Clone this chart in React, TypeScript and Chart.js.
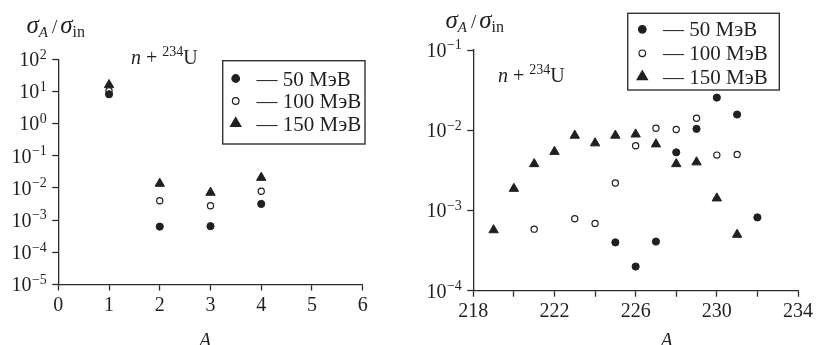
import React, { useEffect, useRef } from 'react';
import { Chart, registerables } from 'chart.js';

Chart.register(...registerables);

// ---------- data ----------
const seriesLabels = ['— 50 МэВ', '— 100 МэВ', '— 150 МэВ'];

// left panel: light fragments
const leftA = [1, 2, 3, 4];
const left50 = [8.2, 6.3e-4, 6.5e-4, 3.2e-3];
const left100 = [10.6, 4.0e-3, 2.8e-3, 7.9e-3];
const left150 = [16, 0.0137, 7.2e-3, 0.021];

// right panel: heavy residues
const right50A = [225, 226, 227, 228, 229, 230, 231, 232];
const right50 = [4.0e-4, 2.0e-4, 4.1e-4, 5.3e-3, 0.0104, 0.0255, 0.0157, 8.2e-4];
const right100A = [221, 223, 224, 225, 226, 227, 228, 229, 230, 231];
const right100 = [5.85e-4, 7.9e-4, 6.9e-4, 2.2e-3, 6.4e-3, 0.0106, 0.0102, 0.0141, 4.9e-3, 5.0e-3];
const right150A = [219, 220, 221, 222, 223, 224, 225, 226, 227, 228, 229, 230, 231];
const right150 = [5.7e-4, 1.87e-3, 3.8e-3, 5.4e-3, 8.6e-3, 6.9e-3, 8.6e-3, 8.9e-3, 6.7e-3, 3.8e-3, 4.0e-3, 1.42e-3, 5.0e-4];

const yTickBase = '10';
const leftYTickValues = [1e-5, 1e-4, 1e-3, 1e-2, 1e-1, 1e0, 1e1, 1e2];
const leftYTickExps = ['−5', '−4', '−3', '−2', '−1', '0', '1', '2'];
const rightYTickValues = [1e-4, 1e-3, 1e-2, 1e-1];
const rightYTickExps = ['−4', '−3', '−2', '−1'];
const leftXTickLabels = ['0', '1', '2', '3', '4', '5', '6'];
const rightXTickLabels = ['218', '222', '226', '230', '234'];

const yTitle = { sigma: 'σ', sub: 'A', slash: '/', sigma2: 'σ', sub2: 'in' };
const reaction = { n: 'n', plus: ' + ', mass: '234', el: 'U' };
const xTitle = 'A';

// ---------- styling ----------
const INK = '#231f20';
const AXIS = '#2a2a2a';
const FONT = '"Liberation Serif", "Times New Roman", serif';

type Run = { t: string; size: number; italic?: boolean; dy?: number; gap?: number };

function runsWidth(ctx: CanvasRenderingContext2D, runs: Run[]) {
  let w = 0;
  for (const r of runs) {
    ctx.font = `${r.italic ? 'italic ' : ''}${r.size}px ${FONT}`;
    w += (r.gap || 0) + ctx.measureText(r.t).width;
  }
  return w;
}

function drawRuns(ctx: CanvasRenderingContext2D, x: number, y: number, runs: Run[]) {
  let cx = x;
  ctx.save();
  ctx.fillStyle = INK;
  ctx.textBaseline = 'alphabetic';
  ctx.textAlign = 'left';
  for (const r of runs) {
    cx += r.gap || 0;
    ctx.font = `${r.italic ? 'italic ' : ''}${r.size}px ${FONT}`;
    ctx.fillText(r.t, cx, y + (r.dy || 0));
    cx += ctx.measureText(r.t).width;
  }
  ctx.restore();
}

function drawMarker(ctx: CanvasRenderingContext2D, style: string, filled: boolean, x: number, y: number, r: number) {
  ctx.save();
  ctx.beginPath();
  if (style === 'triangle') {
    let rad = 0;
    const TT = (Math.PI * 2) / 3;
    ctx.moveTo(x + Math.sin(rad) * r, y - Math.cos(rad) * r);
    rad += TT;
    ctx.lineTo(x + Math.sin(rad) * r, y - Math.cos(rad) * r);
    rad += TT;
    ctx.lineTo(x + Math.sin(rad) * r, y - Math.cos(rad) * r);
    ctx.closePath();
  } else {
    ctx.arc(x, y, r, 0, Math.PI * 2);
  }
  ctx.fillStyle = filled ? INK : '#ffffff';
  ctx.fill();
  ctx.lineWidth = 1.2;
  ctx.strokeStyle = INK;
  ctx.stroke();
  ctx.restore();
}

const decorPlugin = {
  id: 'decor',
  afterDraw(chart: any, _args: any, opts: any) {
    const ctx: CanvasRenderingContext2D = chart.ctx;
    const { box, rows, markerX, textX, title, react, axisLabel, exps } = opts;
    // y tick labels: 10 with superscript exponent
    const ys = chart.scales.y;
    const right = chart.chartArea.left - 11.5;
    ys.ticks.forEach((t: any, i: number) => {
      const py = ys.getPixelForValue(t.value);
      const runs: Run[] = [
        { t: yTickBase, size: 20 },
        { t: exps[i], size: 14, dy: -7.5, gap: 0.5 },
      ];
      const w = runsWidth(ctx, runs);
      drawRuns(ctx, right - w, py + 6.8, runs);
    });
    // legend box
    ctx.save();
    ctx.strokeStyle = '#333';
    ctx.lineWidth = 1.4;
    ctx.strokeRect(box.x, box.y, box.w, box.h);
    ctx.restore();
    chart.data.datasets.forEach((ds: any, i: number) => {
      const y = rows[i];
      const filled = ds.backgroundColor !== '#ffffff';
      const r = ds.pointStyle === 'triangle' ? 6 : filled ? 3.8 : 3.3;
      drawMarker(ctx, ds.pointStyle, filled, markerX, y, r);
      drawRuns(ctx, textX, y + 7, [{ t: ds.label, size: 21 }]);
    });
    // y title
    drawRuns(ctx, title.x, title.y, [
      { t: yTitle.sigma, size: 25, italic: true },
      { t: yTitle.sub, size: 15, italic: true, dy: 4 },
      { t: yTitle.slash, size: 19, gap: 4 },
      { t: yTitle.sigma2, size: 25, italic: true, gap: 3 },
      { t: yTitle.sub2, size: 16, dy: 4 },
    ]);
    // reaction
    drawRuns(ctx, react.x, react.y, [
      { t: reaction.n, size: 20, italic: true },
      { t: reaction.plus, size: 20 },
      { t: reaction.mass, size: 14, dy: -8 },
      { t: reaction.el, size: 20 },
    ]);
    // x title
    ctx.save();
    ctx.fillStyle = INK;
    ctx.font = `italic 20px ${FONT}`;
    ctx.textAlign = 'center';
    ctx.textBaseline = 'alphabetic';
    ctx.fillText(xTitle, axisLabel.x, axisLabel.y);
    ctx.restore();
  },
};

function makeDatasets(a50: number[], y50: number[], a100: number[], y100: number[], a150: number[], y150: number[]) {
  const mk = (xs: number[], ys: number[]) => xs.map((x, i) => ({ x, y: ys[i] }));
  return [
    {
      label: seriesLabels[0],
      data: mk(a50, y50),
      pointStyle: 'circle',
      pointRadius: 3.6,
      backgroundColor: INK,
      borderColor: INK,
      borderWidth: 1,
      showLine: false,
    },
    {
      label: seriesLabels[1],
      data: mk(a100, y100),
      pointStyle: 'circle',
      pointRadius: 3.1,
      backgroundColor: '#ffffff',
      borderColor: INK,
      borderWidth: 1.2,
      showLine: false,
    },
    {
      label: seriesLabels[2],
      data: mk(a150, y150),
      pointStyle: 'triangle',
      pointRadius: 5.4,
      backgroundColor: INK,
      borderColor: INK,
      borderWidth: 1,
      showLine: false,
    },
  ];
}

function axisCommon() {
  return {
    grid: { display: true, drawOnChartArea: false, drawTicks: true, tickLength: 6, tickColor: AXIS, tickWidth: 1.3 },
    border: { display: true, color: AXIS, width: 1.3 },
  };
}

function buildConfig(p: any): any {
  return {
    type: 'scatter',
    data: { datasets: p.datasets },
    plugins: [decorPlugin],
    options: {
      animation: false,
      responsive: false,
      devicePixelRatio: 1,
      events: [],
      layout: { autoPadding: false, padding: p.padding },
      plugins: {
        legend: { display: false },
        tooltip: { enabled: false },
        decor: { ...p.decor, exps: p.yTickExps },
      },
      scales: {
        x: {
          type: 'linear',
          min: p.xMin,
          max: p.xMax,
          ...axisCommon(),
          afterFit: (s: any) => { s.height = p.xHeight; },
          ticks: {
            stepSize: p.xStep,
            autoSkip: false,
            maxRotation: 0,
            padding: 3,
            color: INK,
            font: { family: FONT, size: 20 },
            callback: p.xCallback,
          },
        },
        y: {
          type: 'logarithmic',
          min: p.yMin,
          max: p.yMax,
          ...axisCommon(),
          afterFit: (s: any) => { s.width = p.yWidth; },
          afterBuildTicks: (s: any) => { s.ticks = p.yTickValues.map((v: number) => ({ value: v, major: true })); },
          ticks: {
            autoSkip: false,
            display: false,
            callback: (_v: any, i: number) => yTickBase + p.yTickExps[i],
          },
        },
      },
    },
  };
}

const W = 816;
const H = 345;

export default function App() {
  const leftRef = useRef<HTMLCanvasElement>(null);
  const rightRef = useRef<HTMLCanvasElement>(null);

  useEffect(() => {
    const left = new Chart(leftRef.current as HTMLCanvasElement, buildConfig({
      datasets: makeDatasets(leftA, left50, leftA, left100, leftA, left150),
      padding: { left: 0, top: 59.3, right: W - 362.7, bottom: 0 },
      xMin: 0, xMax: 6, xStep: 1, xHeight: H - 284.5,
      xCallback: (v: number) => leftXTickLabels[Math.round(v)] ?? '',
      yMin: 1e-5, yMax: 1e2, yWidth: 58.3,
      yTickValues: leftYTickValues, yTickExps: leftYTickExps,
      decor: {
        box: { x: 222.7, y: 60.7, w: 142.3, h: 83.3 },
        rows: [78.5, 101, 123.5],
        markerX: 235.7,
        textX: 256.5,
        title: { x: 26.5, y: 33 },
        react: { x: 131, y: 64 },
        axisLabel: { x: 205, y: 346.5 },
      },
    }));
    const right = new Chart(rightRef.current as HTMLCanvasElement, buildConfig({
      datasets: makeDatasets(right50A, right50, right100A, right100, right150A, right150),
      padding: { left: 400, top: 50, right: W - 802.3, bottom: 0 },
      xMin: 218, xMax: 234, xStep: 2, xHeight: H - 290.7,
      xCallback: (v: number) => (v % 4 === 2 ? rightXTickLabels[(v - 218) / 4] : ''),
      yMin: 1e-4, yMax: 1e-1, yWidth: 73.3,
      yTickValues: rightYTickValues, yTickExps: rightYTickExps,
      decor: {
        box: { x: 627.7, y: 13.3, w: 151.6, h: 76.7 },
        rows: [29.3, 53.3, 76.7],
        markerX: 642.3,
        textX: 663,
        title: { x: 445.5, y: 28 },
        react: { x: 498, y: 82 },
        axisLabel: { x: 666.7, y: 346.5 },
      },
    }));
    return () => {
      left.destroy();
      right.destroy();
    };
  }, []);

  const cs: React.CSSProperties = { position: 'absolute', left: 0, top: 0, width: W, height: H, display: 'block' };
  return (
    <div style={{ position: 'absolute', left: 0, top: 0, width: W, height: H, background: '#fff', overflow: 'hidden' }}>
      <canvas ref={leftRef} width={W} height={H} style={cs} />
      <canvas ref={rightRef} width={W} height={H} style={cs} />
    </div>
  );
}
